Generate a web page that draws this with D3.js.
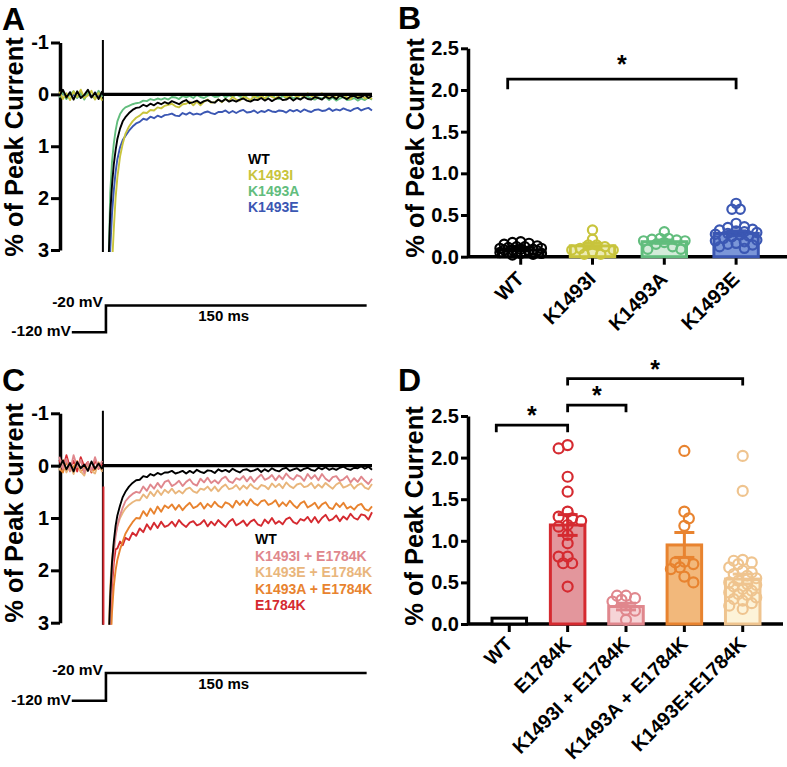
<!DOCTYPE html>
<html><head><meta charset="utf-8">
<script src="https://cdn.jsdelivr.net/npm/d3@7"></script>
<style>
body{margin:0;background:#fff;}
svg{display:block;font-family:"Liberation Sans",Arial,Helvetica,sans-serif;font-weight:bold;}
</style></head><body>
<svg id="fig" width="787" height="767"></svg>
<script>
// ================= DATA =================
// time (ms) relative to the voltage step; value null at 0 marks the step gap
const traceTime = [-25,-23,-21,-19,-17,-15,-13,-11,-9,-7,-5,-3,-1,
  0,
  1.5,2.5,3.5,4.5,5.5,6.5,7.5,9,10.5,12,14,16,18,20,22,24,26,28,30,32,34,
  36,38,40,42,44,46,48,50,52,54,56,58,60,62,64,66,68,70,72,74,
  76,78,80,82,84,86,88,90,92,94,96,98,100,102,104,106,108,110,112,114,
  116,118,120,122,124,126,128,130,132,134,136,138,140,142,144,146,148,150];

// Panel A traces (% of peak current; inward current plotted downward)
const traceA_WT = [0.03,-0.09,0.06,-0.04,0.10,-0.06,0.07,0.01,-0.09,0.06,-0.03,0.09,-0.06,
  null,
  6,3.3,2.3,1.75,1.35,1.08,0.86,0.66,0.52,0.44,0.36,0.30,0.26,0.25,0.20,0.23,0.18,0.21,0.16,0.19,0.15,
  0.18,0.13,0.16,0.19,0.14,0.11,0.17,0.15,0.12,0.17,0.13,0.11,0.15,0.16,0.10,0.14,0.09,0.14,0.11,0.14,
  0.10,0.08,0.12,0.14,0.10,0.11,0.07,0.12,0.08,0.13,0.09,0.06,0.11,0.10,0.06,0.12,0.07,0.10,0.05,0.09,
  0.10,0.05,0.07,0.10,0.04,0.08,0.04,0.09,0.02,0.06,0.09,0.04,0.03,0.07,0.05,0.01,0.07,0.03];
const traceA_K1493I = [-0.05,0.09,-0.02,0.11,-0.06,0.05,-0.09,0.07,0.02,-0.07,0.10,-0.03,0.12,
  null,
  9,6,4.5,3.3,2.6,2.0,1.6,1.2,0.95,0.76,0.62,0.52,0.45,0.41,0.35,0.36,0.30,0.31,0.25,0.27,0.22,
  0.20,0.18,0.23,0.25,0.19,0.18,0.14,0.21,0.14,0.21,0.14,0.10,0.16,0.15,0.10,0.15,0.09,0.13,0.05,0.10,
  0.12,0.05,0.07,0.11,0.03,0.08,0.03,0.08,0.00,0.05,0.08,0.02,0.00,0.06,0.04,-0.01,0.06,0.01,0.05,-0.02,
  0.03,0.07,0.01,-0.02,0.06,0.03,0.01,0.07,0.03,0.00,0.06,0.09,0.01,0.06,0.00,0.08,0.05,0.09];
const traceA_K1493A = [0.06,-0.04,0.09,0.00,-0.06,0.07,-0.02,0.10,-0.05,0.03,0.08,-0.07,0.05,
  null,
  6,3.4,1.9,1.3,0.95,0.7,0.52,0.38,0.30,0.25,0.22,0.19,0.17,0.16,0.12,0.13,0.09,0.11,0.08,0.10,0.07,
  0.10,0.05,0.06,0.09,0.03,0.06,0.03,0.07,0.01,0.05,0.07,0.03,0.01,0.05,0.04,0.00,0.06,0.02,0.05,0.00,
  0.04,0.07,0.02,0.00,0.06,0.04,0.02,0.08,0.04,0.02,0.07,0.09,0.03,0.07,0.02,0.08,0.06,0.09,0.05,0.04,
  0.08,0.10,0.06,0.08,0.05,0.11,0.06,0.12,0.08,0.05,0.11,0.10,0.07,0.12,0.08,0.11,0.06,0.10];
const traceA_K1493E = [0.03,-0.02,0.05,-0.04,0.02,0.06,-0.03,0.04,-0.01,0.05,-0.04,0.03,0.01,
  null,
  7,4.5,3.0,2.3,1.85,1.5,1.25,1.02,0.88,0.80,0.70,0.62,0.56,0.53,0.47,0.49,0.43,0.46,0.41,0.44,0.40,
  0.39,0.37,0.41,0.42,0.36,0.39,0.35,0.39,0.37,0.39,0.35,0.33,0.36,0.38,0.34,0.34,0.31,0.36,0.32,0.36,
  0.32,0.30,0.35,0.34,0.31,0.36,0.32,0.34,0.30,0.33,0.34,0.31,0.32,0.35,0.30,0.33,0.30,0.34,0.29,0.32,
  0.34,0.30,0.29,0.32,0.31,0.27,0.32,0.29,0.31,0.27,0.30,0.32,0.28,0.26,0.31,0.28,0.26,0.31];

// Panel C traces
const traceC_WT = [0.04,-0.10,0.07,-0.05,0.11,-0.07,0.05,-0.02,0.10,-0.08,0.06,-0.04,0.07,
  null,
  6,3.5,2.5,1.85,1.45,1.15,0.95,0.76,0.6,0.5,0.40,0.33,0.28,0.27,0.20,0.22,0.16,0.19,0.14,0.17,0.13,
  0.13,0.10,0.15,0.13,0.10,0.15,0.10,0.14,0.08,0.12,0.14,0.09,0.10,0.14,0.07,0.11,0.08,0.12,0.06,0.10,
  0.13,0.08,0.07,0.11,0.09,0.06,0.12,0.07,0.11,0.05,0.09,0.11,0.06,0.04,0.10,0.07,0.05,0.10,0.06,0.04,
  0.08,0.10,0.04,0.07,0.03,0.08,0.05,0.08,0.04,0.02,0.06,0.08,0.04,0.05,0.01,0.06,0.02,0.08];
const traceC_K1493I_E1784K = [-0.17,0.06,-0.13,0.11,-0.20,0.02,-0.11,0.14,-0.07,0.09,-0.16,0.05,-0.09,
  null,
  6,4,2.8,2.1,1.65,1.35,1.15,0.95,0.8,0.68,0.6,0.54,0.5,0.52,0.40,0.48,0.36,0.44,0.33,0.42,0.31,
  0.28,0.39,0.35,0.29,0.39,0.31,0.26,0.35,0.38,0.25,0.32,0.23,0.33,0.28,0.34,0.25,0.21,0.30,0.33,0.24,
  0.27,0.20,0.30,0.21,0.31,0.23,0.17,0.27,0.24,0.18,0.28,0.19,0.26,0.15,0.23,0.27,0.18,0.21,0.29,0.16,
  0.25,0.18,0.28,0.16,0.25,0.30,0.22,0.20,0.29,0.26,0.20,0.32,0.24,0.31,0.21,0.29,0.35,0.25];
const traceC_K1493E_E1784K = [0.09,-0.11,0.13,-0.02,0.16,-0.07,0.11,0.19,-0.04,0.10,0.15,-0.06,0.12,
  null,
  6,3.3,2.3,1.8,1.5,1.3,1.15,1.0,0.9,0.82,0.75,0.70,0.66,0.66,0.55,0.62,0.50,0.58,0.47,0.56,0.46,
  0.52,0.44,0.53,0.48,0.53,0.45,0.42,0.49,0.52,0.44,0.46,0.40,0.48,0.40,0.49,0.41,0.36,0.45,0.43,0.37,
  0.46,0.38,0.44,0.35,0.42,0.45,0.37,0.39,0.45,0.34,0.41,0.35,0.43,0.32,0.39,0.43,0.36,0.34,0.41,0.39,
  0.33,0.43,0.36,0.42,0.33,0.39,0.44,0.36,0.32,0.42,0.39,0.35,0.44,0.37,0.34,0.42,0.45,0.35];
const traceC_K1493A_E1784K = [0.05,0.13,-0.07,0.10,0.02,-0.09,0.12,0.04,-0.03,0.11,0.07,-0.06,0.09,
  null,
  7,5,3.6,2.8,2.3,2.0,1.8,1.6,1.45,1.3,1.18,1.08,1.0,1.01,0.87,0.96,0.82,0.92,0.78,0.88,0.76,
  0.81,0.74,0.84,0.75,0.85,0.77,0.71,0.81,0.78,0.71,0.82,0.73,0.79,0.69,0.77,0.80,0.70,0.73,0.80,0.67,
  0.75,0.67,0.76,0.64,0.72,0.76,0.68,0.66,0.75,0.72,0.66,0.78,0.70,0.77,0.67,0.75,0.81,0.72,0.68,0.80,
  0.76,0.71,0.82,0.74,0.70,0.80,0.83,0.72,0.79,0.71,0.82,0.78,0.84,0.76,0.73,0.83,0.86,0.78];
const traceC_E1784K = [-0.11,0.07,-0.20,0.04,-0.09,0.11,-0.16,0.02,-0.07,0.13,-0.11,0.06,-0.04,
  null,
  7,4.5,3.2,2.3,1.85,1.6,1.58,1.45,1.52,1.38,1.42,1.28,1.34,1.20,1.27,1.12,1.22,1.09,1.19,1.07,1.17,
  1.14,1.07,1.16,1.04,1.12,1.17,1.09,1.06,1.14,1.11,1.04,1.16,1.07,1.14,1.04,1.11,1.17,1.07,1.02,1.14,
  1.10,1.05,1.15,1.07,1.03,1.12,1.15,1.03,1.10,1.00,1.11,1.06,1.12,1.02,0.99,1.08,1.11,1.02,1.05,0.98,
  1.08,0.98,1.09,1.00,0.94,1.05,1.02,0.95,1.06,0.97,1.03,0.92,1.00,1.03,0.93,0.95,1.03,0.89];

// capacitive artifact at the step
const artifactTime = -0.6;
const artifactSpan = [-1.05, 3.05];

// voltage protocol (ms, mV)
const protoTime = [-18, 1.1, 1.1, 147];
const protoVolt = [-120, -120, -20, -20];

const traceTicks = [-1, 0, 1, 2, 3];
const barTicks = [0, 0.5, 1.0, 1.5, 2.0, 2.5];

// Panel B
const catsB = ["WT", "K1493I", "K1493A", "K1493E"];
const meanB = [0.08, 0.13, 0.18, 0.28];
const semB = [0.01, 0.03, 0.02, 0.03];
const ptsB_WT = [0.05,0.08,0.04,0.10,0.07,0.12,0.15,0.18,0.17,0.06,0.09,0.03,0.05,0.08,0.10,0.07,0.11,0.13,0.04,0.06,0.09,0.16,0.02,0.12];
const ptsB_K1493I = [0.32,0.21,0.14,0.10,0.08,0.03,0.03,0.12,0.14,0.08,0.06];
const ptsB_K1493A = [0.30,0.21,0.22,0.19,0.20,0.09,0.09,0.19,0.12,0.22,0.17,0.15];
const ptsB_K1493E = [0.64,0.57,0.57,0.40,0.35,0.32,0.30,0.28,0.26,0.24,0.22,0.20,0.18,0.16,0.15,0.12,0.10,0.33,0.31,0.29,0.27,0.19,0.14,0.36,0.25];

// Panel D
const catsD = ["WT", "E1784K", "K1493I + E1784K", "K1493A + E1784K", "K1493E+E1784K"];
const meanD = [0.07, 1.19, 0.21, 0.95, 0.54];
const semD = [0, 0.125, 0.04, 0.15, 0.06];
const ptsD_WT = [];
const ptsD_E1784K = [2.15,2.11,1.77,1.59,1.35,1.29,1.27,1.24,1.19,1.17,1.07,0.97,0.81,0.81,0.73,0.73,0.45];
const ptsD_K1493I_E = [0.34,0.34,0.31,0.29,0.27,0.17,0.16,0.05];
const ptsD_K1493A_E = [2.08,1.35,1.27,1.18,0.74,0.75,0.68,0.66,0.57,0.50,0.72];
const ptsD_K1493E_E = [2.02,1.60,0.77,0.76,0.74,0.72,0.68,0.64,0.60,0.58,0.55,0.52,0.50,0.48,0.45,0.42,0.40,0.38,0.35,0.32,0.30,0.28,0.25,0.22,0.18,0.62,0.47,0.36];

// significance brackets: [from index, to index, level]
const sigB = [[0, 3, 2.13]];
const sigD = [[0, 1, 2.39], [1, 2, 2.63], [1, 4, 2.95]];

// ================= DRAWING =================
const svg = d3.select('#fig');
svg.append('rect').attr('width', 787).attr('height', 767).attr('fill', '#fff');

function styleAxis(ax, fs) {
  ax.attr('font-family', null).attr('font-size', null);
  ax.select('.domain').attr('stroke', '#000').attr('stroke-width', 3.5);
  ax.selectAll('.tick line').attr('stroke', '#000').attr('stroke-width', 3);
  ax.selectAll('.tick text').attr('fill', '#000').style('font-size', fs + 'px').style('font-weight', 'bold');
}

function yTitle(x, yc) {
  svg.append('text').attr('transform', `translate(${x},${yc}) rotate(-90)`)
    .attr('text-anchor', 'middle').style('font-size', '25.5px').text('% of Peak Current');
}

function panelLetter(t, x, y) {
  svg.append('text').attr('x', x).attr('y', y).style('font-size', '32px').text(t);
}

let clipN = 0;
function tracePanel(cfg) {
  const x = d3.scaleLinear().domain([-25, 150]).range([59.3, 372]);
  const y = d3.scaleLinear().domain([-1, 3]).range(cfg.yRange);
  const g = svg.append('g');
  const cid = 'clip' + (clipN++);
  g.append('clipPath').attr('id', cid).append('rect')
    .attr('x', 57).attr('y', y(-1.08)).attr('width', 330).attr('height', y(3.04) - y(-1.08));
  const ax = g.append('g').attr('transform', 'translate(60,0)')
    .call(d3.axisLeft(y).tickValues(traceTicks).tickFormat(d => String(d)).tickSize(9).tickSizeOuter(0).tickPadding(2));
  styleAxis(ax, 20);

  const line = d3.line().defined(d => d[1] != null).x(d => x(d[0])).y(d => y(d[1]));
  const tg = g.append('g').attr('clip-path', `url(#${cid})`);
  cfg.artifacts.forEach(a => {
    tg.append('line').attr('x1', x(artifactTime + a.dt)).attr('x2', x(artifactTime + a.dt))
      .attr('y1', y(a.span[0])).attr('y2', y(a.span[1])).attr('stroke', a.color).attr('stroke-width', 2);
  });
  cfg.traces.forEach(tr => {
    tg.append('path').datum(traceTime.map((t, i) => [t, tr.values[i]]))
      .attr('d', line).attr('fill', 'none').attr('stroke', tr.color).attr('stroke-width', 1.9)
      .attr('stroke-linejoin', 'round');
  });
  g.append('line').attr('x1', x(artifactTime)).attr('x2', x(150)).attr('y1', y(0)).attr('y2', y(0))
    .attr('stroke', '#000').attr('stroke-width', 3.2);

  const lg = g.append('g');
  cfg.legend.forEach((l, i) => {
    lg.append('text').attr('x', cfg.legendX).attr('y', cfg.legendY + i * cfg.legendDy)
      .attr('fill', l.color).style('font-size', '14px').text(l.name);
  });

  const v = d3.scaleLinear().domain([-120, -20]).range(cfg.protoRange);
  const pline = d3.line().x(d => x(d[0])).y(d => v(d[1]));
  g.append('path').datum(protoTime.map((t, i) => [t, protoVolt[i]])).attr('d', pline)
    .attr('fill', 'none').attr('stroke', '#000').attr('stroke-width', 2.6);
  g.append('text').attr('x', x(0) - 1).attr('y', v(-20) + 1.5).attr('text-anchor', 'end').style('font-size', '15.5px').text('-20 mV');
  g.append('text').attr('x', x(protoTime[0]) - 1).attr('y', v(-120) + 4).attr('text-anchor', 'end').style('font-size', '15.5px').text('-120 mV');
  g.append('text').attr('x', x(67)).attr('y', v(-20) + 15.5).attr('text-anchor', 'middle').style('font-size', '15px').text('150 ms');
}

function swarm(vals, y, cx, r, halfW, thr) {
  const placed = [];
  const order = vals.map((v, i) => ({ v, i })).sort((a, b) => b.v - a.v);
  const step = r * 0.9;
  const offs = [0];
  for (let k = 1; k * step <= halfW; k++) { offs.push(k * step, -k * step); }
  order.forEach((p, j) => {
    const py = y(p.v);
    let best = 0, bestD = -1;
    const cand = (j % 2) ? offs.map(o => -o) : offs;
    for (const o of cand) {
      const d = placed.length ? d3.min(placed, q => Math.hypot(q.x - (cx + o), q.y - py)) : Infinity;
      if (d >= thr) { best = o; bestD = d; break; }
      if (d > bestD) { bestD = d; best = o; }
    }
    placed.push({ x: cx + best, y: py });
  });
  return placed;
}

function barPanel(cfg) {
  const x = d3.scaleBand().domain(cfg.cats).range(cfg.xRange).paddingInner(cfg.pad).paddingOuter(cfg.pad / 2);
  const y = d3.scaleLinear().domain([0, 2.5]).range(cfg.yRange);
  const g = svg.append('g');
  const y0 = y(0);
  g.append('line').attr('x1', cfg.axisX).attr('x2', cfg.xEnd).attr('y1', y0).attr('y2', y0)
    .attr('stroke', '#000').attr('stroke-width', 3.5);
  const axb = g.append('g').attr('transform', `translate(0,${y0})`)
    .call(d3.axisBottom(x).tickSize(8).tickSizeOuter(0).tickFormat(''));
  axb.select('.domain').remove();
  axb.selectAll('.tick line').attr('stroke', '#000').attr('stroke-width', 3);
  axb.attr('font-family', null).attr('font-size', null);
  const axl = g.append('g').attr('transform', `translate(${cfg.axisX},0)`)
    .call(d3.axisLeft(y).tickValues(barTicks).tickFormat(d3.format('.1f')).tickSize(7).tickSizeOuter(0).tickPadding(2));
  styleAxis(axl, 20);

  cfg.cats.forEach((c, i) => {
    const m = cfg.means[i];
    g.append('rect').attr('x', x(c) + 1.5).attr('y', y(m)).attr('width', x.bandwidth() - 3)
      .attr('height', y0 - y(m)).attr('fill', cfg.fills[i]).attr('stroke', cfg.strokes[i]).attr('stroke-width', 3);
  });
  cfg.cats.forEach((c, i) => {
    const cx = x(c) + x.bandwidth() / 2;
    const pts = swarm(cfg.points[i], y, cx, cfg.r, x.bandwidth() / 2 - cfg.r + 2, cfg.r * 1.5);
    g.selectAll(null).data(pts).enter().append('circle')
      .attr('cx', d => d.x).attr('cy', d => d.y).attr('r', cfg.r)
      .attr('fill', 'none').attr('stroke', cfg.strokes[i]).attr('stroke-width', 2.2);
  });
  cfg.cats.forEach((c, i) => {
    const m = cfg.means[i], s = cfg.sems[i];
    if (!s) return;
    const cx = x(c) + x.bandwidth() / 2;
    const e = g.append('g').attr('stroke', cfg.strokes[i]).attr('stroke-width', 3);
    e.append('line').attr('x1', cx).attr('x2', cx).attr('y1', y(m - s)).attr('y2', y(m + s));
    [m - s, m + s].forEach(v => e.append('line').attr('x1', cx - 10).attr('x2', cx + 10).attr('y1', y(v)).attr('y2', y(v)));
  });
  cfg.cats.forEach((c, i) => {
    const cx = x(c) + x.bandwidth() / 2;
    g.append('text').attr('transform', `translate(${cx + 4.5},${y0 + cfg.labelDy}) rotate(-45)`)
      .attr('text-anchor', 'end').style('font-size', cfg.labelFs + 'px').text(c);
  });
  cfg.sig.forEach(([a, b, lev]) => {
    const xa = x(cfg.cats[a]) + x.bandwidth() / 2 + (a === 0 ? -13 : 0);
    const xb = x(cfg.cats[b]) + x.bandwidth() / 2;
    const yy = y(lev);
    g.append('path').attr('d', `M${xa},${yy + cfg.drop}V${yy}H${xb}V${yy + cfg.drop}`)
      .attr('fill', 'none').attr('stroke', '#000').attr('stroke-width', 2.8);
    g.append('text').attr('x', (xa + xb) / 2).attr('y', yy - cfg.starGap).attr('text-anchor', 'middle')
      .style('font-size', '25px').text('*');
  });
}

// ---- Panel A ----
panelLetter('A', 2, 30);
yTitle(23, 147);
tracePanel({
  yRange: [42.5, 250],
  traces: [
    { values: traceA_K1493E, color: '#3b57b3' },
    { values: traceA_K1493A, color: '#62bd7d' },
    { values: traceA_K1493I, color: '#c8c43c' },
    { values: traceA_WT, color: '#000000' }
  ],
  artifacts: [{ dt: 0, span: artifactSpan, color: '#000' }],
  legend: [
    { name: 'WT', color: '#000' }, { name: 'K1493I', color: '#c8c43c' },
    { name: 'K1493A', color: '#62bd7d' }, { name: 'K1493E', color: '#3b57b3' }
  ],
  legendX: 248, legendY: 163.5, legendDy: 16.2,
  protoRange: [332.3, 305.5]
});

// ---- Panel C ----
panelLetter('C', 2, 391);
yTitle(23, 513);
tracePanel({
  yRange: [413.3, 622.7],
  traces: [
    { values: traceC_E1784K, color: '#d52a30' },
    { values: traceC_K1493A_E1784K, color: '#e8832f' },
    { values: traceC_K1493E_E1784K, color: '#e9b67c' },
    { values: traceC_K1493I_E1784K, color: '#e0878d' },
    { values: traceC_WT, color: '#000000' }
  ],
  artifacts: [{ dt: 0, span: artifactSpan, color: '#000' }, { dt: 0.3, span: [0.4, 3.05], color: '#d52a30' }],
  legend: [
    { name: 'WT', color: '#000' }, { name: 'K1493I + E1784K', color: '#e0878d' },
    { name: 'K1493E + E1784K', color: '#e9b67c' }, { name: 'K1493A + E1784K', color: '#e8832f' },
    { name: 'E1784K', color: '#d52a30' }
  ],
  legendX: 255, legendY: 544, legendDy: 16.5,
  protoRange: [700.7, 673]
});

// ---- Panel B ----
panelLetter('B', 398, 29);
yTitle(424, 148);
barPanel({
  cats: catsB, xRange: [484.8, 772], pad: 0.34, yRange: [256.7, 48.3], axisX: 468, xEnd: 787,
  means: meanB, sems: semB,
  points: [ptsB_WT, ptsB_K1493I, ptsB_K1493A, ptsB_K1493E],
  fills: ['#ffffff', '#ecebb4', '#d3ebd9', '#7b96d8'],
  strokes: ['#000000', '#c8c43c', '#62bd7d', '#3b57b3'],
  r: 4.6, sig: sigB, drop: 10, starGap: 6, labelDy: 23.5, labelFs: 20
});

// ---- Panel D ----
panelLetter('D', 398, 391);
yTitle(423, 516);
barPanel({
  cats: catsD, xRange: [480.1, 771.9], pad: 0.357, yRange: [624, 416], axisX: 468, xEnd: 783,
  means: meanD, sems: semD,
  points: [ptsD_WT, ptsD_E1784K, ptsD_K1493I_E, ptsD_K1493A_E, ptsD_K1493E_E],
  fills: ['#ffffff', '#e3969c', '#f6d4d7', '#f2b87b', '#fdf3d8'],
  strokes: ['#000000', '#d52a30', '#e0878d', '#e8832f', '#efc48f'],
  r: 5, sig: sigD, drop: 7, starGap: 1, labelDy: 21, labelFs: 19.5
});
</script>
</body></html>
